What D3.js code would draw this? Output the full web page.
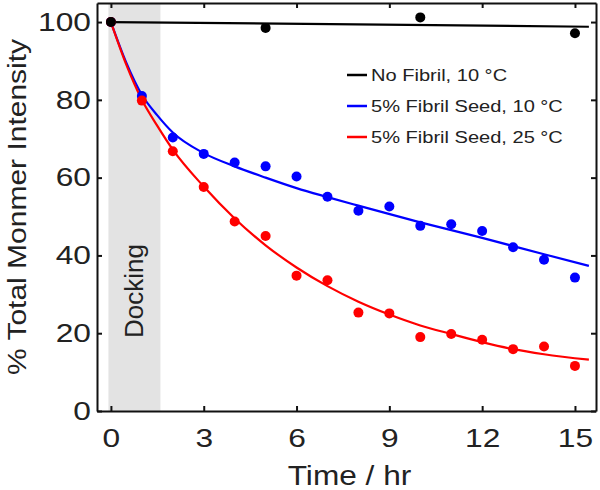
<!DOCTYPE html>
<html>
<head>
<meta charset="utf-8">
<script src="https://cdn.jsdelivr.net/npm/d3@7/dist/d3.min.js"></script>
<style>
  html, body { margin: 0; padding: 0; background: #fff; }
  svg { display: block; font-family: "Liberation Sans", Arial, sans-serif; }
</style>
</head>
<body>
<svg id="chart" width="600" height="490"></svg>
<script>
// ---- data ----
const times = [0, 1, 2, 3, 4, 5, 6, 7, 8, 9, 10, 11, 12, 13, 14, 15];
const blueValues = [100, 81.0, 70.3, 66.1, 63.9, 62.9, 60.3, 55.1, 51.5, 52.6, 47.6, 48.0, 46.3, 42.1, 38.9, 34.3];
const redValues  = [100, 79.8, 66.8, 57.6, 48.7, 45.0, 34.8, 33.6, 25.3, 25.1, 19.0, 19.8, 18.3, 15.9, 16.6, 11.6];
const blackTimes = [0, 5, 10, 15];
const blackValues = [100, 98.5, 101.2, 97.1];

// fitted curves
const blackFitT = [0, 15.45];
const blackFit  = [100, 98.8];
const blueFitT = [0, 0.5, 1, 1.5, 2, 3, 4, 5, 6, 7, 8, 10, 12, 14, 15.45];
const blueFit  = [100, 89.5, 81.3, 76.0, 71.6, 66.3, 62.9, 60.0, 57.3, 55.0, 52.8, 48.5, 44.5, 40.3, 37.3];
const redFitT = [0, 0.5, 1, 1.5, 2, 3, 4, 5, 6, 7, 8, 9, 10, 11, 12, 13, 14, 15.45];
const redFit  = [100, 89.0, 80.0, 73.3, 67.2, 57.7, 49.5, 42.6, 36.9, 32.1, 28.1, 24.8, 22.0, 19.8, 17.7, 15.9, 14.6, 13.2];

const dockingRange = [-0.08, 1.6];
const xTicks = [0, 3, 6, 9, 12, 15];
const yTicks = [0, 20, 40, 60, 80, 100];
const legendLabels = ["No Fibril, 10 \u00B0C", "5% Fibril Seed, 10 \u00B0C", "5% Fibril Seed, 25 \u00B0C"];
const seriesColors = ["#000000", "#0000ff", "#ff0000"];
const xTitle = "Time / hr";
const yTitle = "% Total Monmer Intensity";
const dockingLabel = "Docking";

// ---- layout ----
const L = 97, R = 596, T = 3, B = 411;
const svg = d3.select("#chart");
const x = d3.scaleLinear().domain([-0.45, 15.68]).range([L, R]);
const y = d3.scaleLinear().domain([0, 104.9]).range([B, T]);

// docking band
svg.append("rect")
  .attr("x", x(dockingRange[0])).attr("y", T)
  .attr("width", x(dockingRange[1]) - x(dockingRange[0]))
  .attr("height", B - T)
  .attr("fill", "#e3e3e3");

svg.append("text")
  .attr("transform", `translate(${x((dockingRange[0] + dockingRange[1]) / 2) + 9},291) rotate(-90)`)
  .attr("text-anchor", "middle")
  .attr("font-size", 26)
  .attr("fill", "#222")
  .text(dockingLabel);

// curves
const line = d3.line().x(d => x(d[0])).y(d => y(d[1])).curve(d3.curveMonotoneX);
const fits = [
  [blackFitT, blackFit, seriesColors[0]],
  [blueFitT, blueFit, seriesColors[1]],
  [redFitT, redFit, seriesColors[2]]
];
fits.forEach(([tt, vv, c]) => {
  svg.append("path")
    .datum(tt.map((t, i) => [t, vv[i]]))
    .attr("fill", "none")
    .attr("stroke", c)
    .attr("stroke-width", 2.2)
    .attr("d", line);
});

// points
const pointSets = [
  [times, blueValues, seriesColors[1]],
  [times, redValues, seriesColors[2]],
  [blackTimes, blackValues, seriesColors[0]]
];
pointSets.forEach(([tt, vv, c]) => {
  svg.append("g").selectAll("circle")
    .data(tt.map((t, i) => [t, vv[i]]))
    .join("circle")
    .attr("cx", d => x(d[0]))
    .attr("cy", d => y(d[1]))
    .attr("r", 5)
    .attr("fill", c);
});

// axes
function styleAxis(g) {
  g.selectAll("path.domain").attr("stroke", "#111").attr("stroke-width", 2);
  g.selectAll(".tick line").attr("stroke", "#111").attr("stroke-width", 2);
}
function stretchLabels(g, sx) {
  g.selectAll(".tick text").each(function () {
    const t = d3.select(this);
    const tx = +t.attr("x") || 0, ty = +t.attr("y") || 0;
    t.attr("x", 0).attr("y", 0)
     .attr("transform", `translate(${tx},${ty}) scale(${sx},1)`)
     .attr("fill", "#222");
  });
}

const gx = svg.append("g").attr("transform", `translate(0,${B})`)
  .call(d3.axisBottom(x).tickValues(xTicks).tickSize(-5).tickSizeOuter(0).tickPadding(18))
  .attr("font-size", 26).attr("font-family", null);
styleAxis(gx); stretchLabels(gx, 1.22);

const gy = svg.append("g").attr("transform", `translate(${L},0)`)
  .call(d3.axisLeft(y).tickValues(yTicks).tickSize(-5).tickSizeOuter(0).tickPadding(6))
  .attr("font-size", 26).attr("font-family", null);
styleAxis(gy); stretchLabels(gy, 1.22);

const gt = svg.append("g").attr("transform", `translate(0,${T})`)
  .call(d3.axisTop(x).tickValues(xTicks).tickSize(-5).tickSizeOuter(0).tickFormat(""));
styleAxis(gt);

const gr = svg.append("g").attr("transform", `translate(${R},0)`)
  .call(d3.axisRight(y).tickValues(yTicks).tickSize(-5).tickSizeOuter(0).tickFormat(""));
styleAxis(gr);

// axis titles
svg.append("text")
  .attr("transform", `translate(${(L + R) / 2 + 3},485) scale(1.13,1)`)
  .attr("text-anchor", "middle")
  .attr("font-size", 28)
  .attr("fill", "#222")
  .text(xTitle);

svg.append("text")
  .attr("transform", `translate(26,${(T + B) / 2}) rotate(-90) scale(1,0.88)`)
  .attr("text-anchor", "middle")
  .attr("font-size", 30)
  .attr("fill", "#222")
  .text(yTitle);

// legend
const legend = svg.append("g");
legendLabels.forEach((lab, i) => {
  const cy = 75 + i * 31;
  legend.append("line")
    .attr("x1", 347).attr("x2", 367)
    .attr("y1", cy).attr("y2", cy)
    .attr("stroke", seriesColors[i]).attr("stroke-width", 2.5);
  legend.append("text")
    .attr("transform", `translate(371,${cy + 6}) scale(1.18,1)`)
    .attr("font-size", 17)
    .attr("fill", "#222")
    .text(lab);
});
</script>
</body>
</html>
